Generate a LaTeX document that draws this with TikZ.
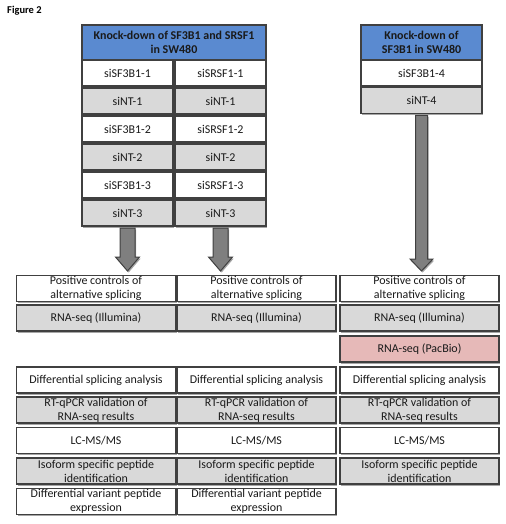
\documentclass[tikz,border=0pt]{standalone}
\usepackage{fontspec}
\setmainfont{Carlito}
\usetikzlibrary{shadows,calc}
\definecolor{hdrblue}{HTML}{5A8AD0}
\definecolor{cellgray}{HTML}{D9D9D9}
\definecolor{pacpink}{HTML}{E6B9B8}
\definecolor{edgegray}{HTML}{404040}
\definecolor{arrfill}{HTML}{7F7F7F}
\definecolor{txt}{HTML}{1A1A1A}
\newcommand\fatarrow[5]{%
  \draw[fatarr] let \p1=(#1.south), \p2=(#2.north) in
    (\x1-#3,\y1-2bp) -- (\x1+#3,\y1-2bp) -- (\x1+#3,\y2+4.5bp+#5) -- (\x1+#4,\y2+4.5bp+#5)
    -- (\x1,\y2+4.5bp) -- (\x1-#4,\y2+4.5bp+#5) -- (\x1-#3,\y2+4.5bp+#5) -- cycle;}
\begin{document}
\begin{tikzpicture}[x=1bp,y=-1bp,
  cell/.style={draw=edgegray, line width=1.3bp, minimum height=26bp, inner sep=0pt, outer sep=0pt,
    align=center, text=txt, font=\fontsize{12}{14}\selectfont,
    drop shadow={shadow xshift=1.2bp, shadow yshift=-1.5bp, opacity=0.35, fill=black}},
  wcell/.style={cell, fill=white},
  gcell/.style={cell, fill=cellgray},
  pcell/.style={cell, fill=pacpink},
  hcell/.style={cell, fill=hdrblue, minimum height=35bp, font=\bfseries\fontsize{12}{14}\selectfont},
  fatarr/.style={fill=arrfill, draw=edgegray, line width=1bp, line join=miter,
    drop shadow={shadow xshift=1.2bp, shadow yshift=-1.5bp, opacity=0.35, fill=black}}]
\useasboundingbox (0,0) rectangle (506,524);
\node[font=\bfseries\fontsize{10.5}{12}\selectfont, anchor=west, inner sep=0pt] (fig) at (7,11) {Figure 2};
% top-left table
\node[hcell, minimum width=184bp] (h1) at (174,42.5) {Knock-down of SF3B1 and SRSF1\\in SW480};
\node[wcell, minimum width=91bp] (a1) at (127.5,73) {siSF3B1-1};
\node[wcell, minimum width=91bp] (b1) at (220.5,73) {siSRSF1-1};
\node[gcell, minimum width=91bp] (a2) at (127.5,101) {siNT-1};
\node[gcell, minimum width=91bp] (b2) at (220.5,101) {siNT-1};
\node[wcell, minimum width=91bp] (a3) at (127.5,129) {siSF3B1-2};
\node[wcell, minimum width=91bp] (b3) at (220.5,129) {siSRSF1-2};
\node[gcell, minimum width=91bp] (a4) at (127.5,157) {siNT-2};
\node[gcell, minimum width=91bp] (b4) at (220.5,157) {siNT-2};
\node[wcell, minimum width=91bp] (a5) at (127.5,185) {siSF3B1-3};
\node[wcell, minimum width=91bp] (b5) at (220.5,185) {siSRSF1-3};
\node[gcell, minimum width=91bp] (a6) at (127.5,213) {siNT-3};
\node[gcell, minimum width=91bp] (b6) at (220.5,213) {siNT-3};
% top-right table
\node[hcell, minimum width=121bp] (h2) at (421.5,42.5) {Knock-down of\\SF3B1 in SW480};
\node[wcell, minimum width=121bp] (c1) at (421.5,73) {siSF3B1-4};
\node[gcell, minimum width=121bp] (c2) at (421.5,100.5) {siNT-4};
% bottom rows
\foreach \col/\cx in {p/96, q/256.5, r/419.5}{
  \node[wcell, minimum width=159bp] (\col1) at (\cx,288.5) {Positive controls of\\alternative splicing};
  \node[gcell, minimum width=159bp] (\col2) at (\cx,318) {RNA-seq (Illumina)};
  \node[wcell, minimum width=159bp] (\col4) at (\cx,380) {Differential splicing analysis};
  \node[gcell, minimum width=159bp] (\col5) at (\cx,410) {RT-qPCR validation of\\RNA-seq results};
  \node[wcell, minimum width=159bp] (\col6) at (\cx,440.5) {LC-MS/MS};
  \node[gcell, minimum width=159bp] (\col7) at (\cx,471) {Isoform specific peptide\\identification};
}
\node[pcell, minimum width=159bp] (r3) at (419.5,349) {RNA-seq (PacBio)};
\node[wcell, minimum width=159bp] (p8) at (96,501.5) {Differential variant peptide\\expression};
\node[wcell, minimum width=159bp] (q8) at (256.5,501.5) {Differential variant peptide\\expression};
% arrows
\fatarrow{a6}{p1}{7.5bp}{12bp}{14bp}
\fatarrow{b6}{q1}{7.5bp}{12bp}{14bp}
\fatarrow{c2}{r1}{6bp}{11.5bp}{12bp}
\end{tikzpicture}
\end{document}
